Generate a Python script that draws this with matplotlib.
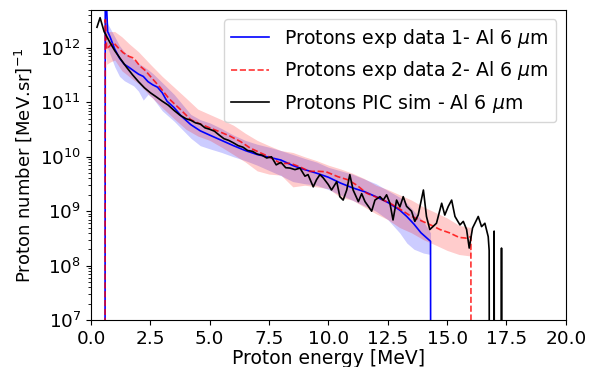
import numpy as np
import matplotlib
matplotlib.use('Agg')
import matplotlib.pyplot as plt

# Protons exp data 1 (blue)
e1 = [0.58, 0.60, 0.70, 0.80, 1.0, 1.2, 1.4, 1.6, 1.8, 2.0, 2.2, 2.4, 2.6, 2.8, 3.0, 3.2,
      3.5, 3.8, 4.2, 4.6, 5.0, 5.5, 6.0, 6.5, 7.0, 7.5, 8.0, 8.5, 9.0, 9.5, 10.0, 10.5,
      11.0, 11.5, 12.0, 12.5, 13.0, 13.3, 13.6, 13.9, 14.3, 14.32]
n1 = [1e0, 2e13, 2.0e12, 1.6e12, 9.5e11, 6.5e11, 5.0e11, 4.4e11, 3.8e11, 3.3e11, 3.0e11,
      2.4e11, 2.1e11, 1.9e11, 1.5e11, 1.05e11, 8.0e10, 5.6e10, 3.9e10, 3.0e10, 2.5e10,
      2.0e10, 1.6e10, 1.3e10, 1.1e10, 9.8e9, 8.7e9, 6.9e9, 5.8e9, 5.0e9, 4.2e9, 3.3e9,
      2.7e9, 2.3e9, 1.85e9, 1.45e9, 1.05e9, 8.0e8, 5.8e8, 4.0e8, 2.8e8, 1e0]
band1_e = [0.6, 0.7, 1.0, 1.2, 1.4, 1.8, 2.0, 2.2, 2.4, 2.6, 3.0, 3.5, 4.2, 4.6, 5.0, 5.5,
           6.0, 6.5, 7.0, 7.5, 8.0, 8.5, 9.0, 9.5, 10.0, 11.0, 12.0, 12.5, 13.0, 13.3, 13.6,
           14.0, 14.3]
band1_lo = [1.0e12, 1.0e12, 4.5e11, 3.0e11, 2.5e11, 2.0e11, 1.6e11, 1.1e11, 1.4e11, 1.2e11,
            7.0e10, 4.5e10, 2.2e10, 1.6e10, 1.4e10, 1.2e10, 1.0e10, 8.5e9, 7.0e9, 5.6e9,
            4.5e9, 3.5e9, 3.2e9, 3.0e9, 2.5e9, 1.6e9, 1.0e9, 7.0e8, 4.0e8, 2.6e8, 2.0e8,
            1.7e8, 1.6e8]
band1_hi = [3.0e12, 2.8e12, 1.6e12, 1.1e12, 8.5e11, 6.0e11, 5.2e11, 4.6e11, 4.0e11, 3.4e11,
            2.3e11, 1.4e11, 6.0e10, 4.8e10, 4.2e10, 3.3e10, 2.5e10, 2.0e10, 1.7e10, 1.5e10,
            1.3e10, 1.1e10, 9.3e9, 8.0e9, 6.4e9, 4.8e9, 3.2e9, 2.4e9, 1.8e9, 1.4e9, 1.0e9,
            6.5e8, 4.0e8]

# Protons exp data 2 (red dashed)
e2 = [0.58, 0.60, 0.66, 0.8, 0.95, 1.15, 1.35, 1.6, 1.8, 2.05, 2.3, 2.5, 2.9, 3.3, 3.75,
      4.2, 4.6, 5.0, 5.4, 5.85, 6.3, 6.7, 7.1, 7.5, 8.0, 8.4, 8.8, 9.2, 9.6, 9.9, 10.4,
      10.8, 11.2, 11.6, 12.1, 12.6, 13.0, 13.4, 13.8, 14.3, 14.7, 15.1, 15.5, 15.8, 16.0,
      16.02]
n2 = [1e0, 3.3e12, 9.5e11, 1.1e12, 1.25e12, 1.0e12, 8.2e11, 7.0e11, 6.5e11, 4.7e11, 3.8e11,
      3.0e11, 1.9e11, 1.15e11, 7.5e10, 4.8e10, 4.0e10, 3.4e10, 2.9e10, 2.4e10, 1.9e10,
      1.45e10, 1.2e10, 1.0e10, 7.5e9, 7.6e9, 6.5e9, 5.4e9, 5.4e9, 5.3e9, 4.3e9, 3.8e9,
      3.0e9, 2.15e9, 1.75e9, 1.4e9, 1.1e9, 8.5e8, 7.0e8, 5.6e8, 4.6e8, 4.0e8, 3.3e8,
      3.2e8, 3.4e8, 1e0]
band2_e = [0.6, 0.66, 0.8, 1.0, 1.3, 1.6, 2.0, 2.5, 3.0, 3.5, 4.0, 4.5, 5.0, 5.5, 6.0, 6.5,
           7.0, 7.5, 8.0, 8.5, 9.0, 9.5, 10.0, 10.5, 11.0, 11.5, 12.0, 12.5, 13.0, 13.5, 14.0,
           14.5, 15.0, 15.5, 16.0]
band2_lo = [1.5e12, 5.0e11, 5.5e11, 6.0e11, 3.8e11, 3.0e11, 2.2e11, 1.3e11, 8.0e10, 5.0e10,
            3.2e10, 2.4e10, 2.0e10, 1.5e10, 1.1e10, 8.0e9, 5.5e9, 4.8e9, 4.6e9, 2.8e9,
            3.0e9, 2.8e9, 2.6e9, 1.8e9, 1.6e9, 1.2e9, 9.0e8, 7.0e8, 5.0e8, 4.0e8, 3.0e8,
            2.4e8, 1.9e8, 1.6e8, 1.5e8]
band2_hi = [4.5e12, 2.0e12, 2.0e12, 2.0e12, 1.6e12, 1.2e12, 8.5e11, 5.0e11, 3.0e11, 1.9e11,
            1.2e11, 7.5e10, 6.0e10, 4.8e10, 3.8e10, 2.7e10, 2.0e10, 1.6e10, 1.3e10, 1.2e10,
            1.0e10, 8.5e9, 7.0e9, 6.0e9, 5.0e9, 4.0e9, 3.0e9, 2.5e9, 2.0e9, 1.6e9, 1.2e9,
            9.5e8, 7.5e8, 5.5e8, 5.0e8]

# Protons PIC sim (black)
e3 = [0.25, 0.38, 0.55, 0.8, 1.0, 1.25, 1.5, 1.75, 2.0, 2.25, 2.5, 2.75, 3.0, 3.25, 3.5,
      3.75, 4.0, 4.2, 4.4, 4.6, 4.8, 5.0, 5.2, 5.4, 5.6, 5.8, 6.0, 6.2, 6.4, 6.6, 6.8,
      7.0, 7.2, 7.4, 7.6, 7.8, 8.0, 8.2, 8.38, 8.59, 8.8, 9.01, 9.14, 9.36, 9.5, 9.64,
      9.78, 9.99, 10.13, 10.35, 10.48, 10.62, 10.77, 10.9, 11.04, 11.26, 11.4, 11.54,
      11.68, 11.82, 11.96, 12.17, 12.31, 12.45, 12.59, 12.72, 12.87, 13.01, 13.15, 13.29,
      13.5, 13.64, 13.78, 14.0, 14.13, 14.27, 14.4, 14.55, 14.77, 14.9, 15.05, 15.19,
      15.33, 15.54, 15.68, 15.82, 15.93, 16.07, 16.31, 16.45, 16.59, 16.73, 16.77, 16.79,
      16.96, 16.98, 17.0, 17.27, 17.29, 17.31]
n3 = [2.4e12, 3.6e12, 2.0e12, 1.25e12, 8.9e11, 6.2e11, 4.4e11, 3.2e11, 2.4e11, 1.85e11,
      1.5e11, 1.26e11, 1.05e11, 8.9e10, 7.1e10, 5.8e10, 5.0e10, 4.7e10, 4.2e10, 4.0e10,
      3.4e10, 3.2e10, 2.95e10, 2.5e10, 2.15e10, 2.0e10, 1.8e10, 1.6e10, 1.5e10, 1.3e10,
      1.26e10, 1.12e10, 1.07e10, 9.5e9, 1.0e10, 7.1e9, 7.9e9, 6.3e9, 6.2e9, 5.8e9, 6.2e9,
      4.4e9, 4.7e9, 2.8e9, 3.8e9, 4.7e9, 4.1e9, 3.1e9, 2.45e9, 3.5e9, 1.85e9, 1.6e9,
      2.45e9, 4.7e9, 2.45e9, 1.5e9, 2.1e9, 1.5e9, 1.23e9, 1.0e9, 1.6e9, 1.85e9, 1.6e9,
      2.0e9, 1.4e9, 6.9e8, 1.6e9, 1.2e9, 1.85e9, 1.23e9, 1.0e9, 6.5e8, 8.5e8, 2.45e9,
      8.0e8, 4.6e8, 5.2e8, 6.0e8, 1.4e9, 8.5e8, 1.23e9, 1.6e9, 8.0e8, 5.6e8, 6.5e8,
      4.6e8, 2.1e8, 4.9e8, 8.0e8, 5.2e8, 6.0e8, 3.4e8, 1.9e8, 1e0, 1e0, 4.3e8, 1e0, 1e0,
      2.1e8, 1e0]

fig = plt.figure(figsize=(5.95, 3.67), dpi=100)
ax = fig.add_axes([0.153, 0.128, 0.798, 0.845])

ax.fill_between(band1_e, band1_lo, band1_hi, color='b', alpha=0.2, lw=0)
ax.fill_between(band2_e, band2_lo, band2_hi, color='r', alpha=0.2, lw=0)
ax.plot(e1, n1, color='b', lw=1.2, label=r'Protons exp data 1- Al 6 $\mu$m')
ax.plot(e2, n2, color='r', ls='--', lw=1.2, alpha=0.8, label=r'Protons exp data 2- Al 6 $\mu$m')
ax.plot(e3, n3, color='k', lw=1.2, label=r'Protons PIC sim - Al 6 $\mu$m')

ax.set_yscale('log')
ax.set_xlim(0, 20)
ax.set_ylim(1e7, 5e12)
ax.set_xticks(np.arange(0, 20.1, 2.5))
ax.tick_params(labelsize=13.3)
ax.set_xlabel('Proton energy [MeV]', fontsize=13.5, labelpad=1)
ax.set_ylabel(r'Proton number [MeV.sr]$^{-1}$', fontsize=13, labelpad=4)
ax.legend(loc='upper right', fontsize=13.6)

fig.savefig('out.png', dpi=100)
